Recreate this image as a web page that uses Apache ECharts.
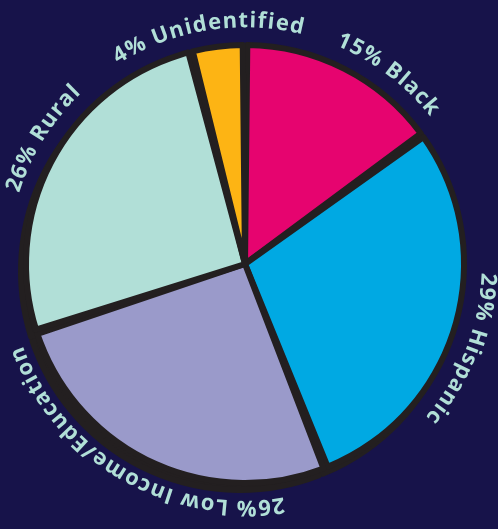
<!DOCTYPE html>
<html>
<head>
<meta charset="utf-8">
<script src="https://cdn.jsdelivr.net/npm/echarts@6/dist/echarts.min.js"></script>
<style>
  html, body { margin: 0; padding: 0; background: #17134a; }
  #main { width: 498px; height: 529px; }
</style>
</head>
<body>
<div id="main"></div>
<script>
  // slice data, clockwise from 12 o'clock
  var groups = ['Black', 'Hispanic', 'Low Income/Education', 'Rural', 'Unidentified'];
  var shares = [15, 29, 26, 26, 4];
  var colors = ['#e6046f', '#00a9e3', '#9a9aca', '#b1dfd7', '#fdb414'];

  // layout
  var cx = 245, cy = 264;
  var pieR = 219;
  var labelR = 243;
  var labelNudge = [10, 5, 5, 3, -2]; // degrees, clockwise, where the drawn labels sit off-centre
  var labelFont = 'bold 22px "Open Sans"';
  var letterGap = 1.5;
  var labelColor = '#b1dfd7';
  var ink = '#231f20';

  var chart = echarts.init(document.getElementById('main'));

  // measure chars so the labels can bend round the pie
  var ctx = document.createElement('canvas').getContext('2d');
  ctx.font = labelFont;

  var total = shares.reduce(function (a, b) { return a + b; }, 0);
  var graphics = [];
  var acc = 0;
  for (var i = 0; i < shares.length; i++) {
    var mid = (acc + shares[i] / 2) / total * Math.PI * 2 + labelNudge[i] * Math.PI / 180;
    acc += shares[i];
    var txt = shares[i] + '% ' + groups[i];
    var widths = [];
    var sum = 0;
    for (var k = 0; k < txt.length; k++) {
      var w = ctx.measureText(txt[k]).width + letterGap;
      widths.push(w);
      sum += w;
    }
    var a = mid - sum / 2 / labelR;
    var run = 0;
    for (var k = 0; k < txt.length; k++) {
      var th = a + (run + widths[k] / 2) / labelR;
      run += widths[k];
      graphics.push({
        type: 'text',
        x: cx + labelR * Math.sin(th),
        y: cy - labelR * Math.cos(th),
        rotation: -th,
        silent: true,
        style: {
          text: txt[k],
          font: labelFont,
          fill: labelColor,
          align: 'center',
          verticalAlign: 'middle'
        }
      });
    }
  }

  var pieBase = {
    type: 'pie',
    radius: [0, pieR],
    startAngle: 90,
    clockwise: true,
    padAngle: 1.2,
    silent: true,
    label: { show: false },
    labelLine: { show: false }
  };

  chart.setOption({
    backgroundColor: '#17134a',
    animation: false,
    graphic: graphics,
    series: [
      // hand-drawn drop shadow, down and to the left
      Object.assign({}, pieBase, {
        center: [cx - 5, cy + 7],
        z: 1,
        itemStyle: { color: ink, borderColor: ink, borderWidth: 6 },
        data: groups.map(function (g, i) { return { name: g, value: shares[i] }; })
      }),
      Object.assign({}, pieBase, {
        center: [cx, cy],
        z: 2,
        itemStyle: { borderColor: ink, borderWidth: 6, borderJoin: 'round' },
        data: groups.map(function (g, i) {
          return { name: g, value: shares[i], itemStyle: { color: colors[i] } };
        })
      })
    ]
  });
</script>
</body>
</html>
